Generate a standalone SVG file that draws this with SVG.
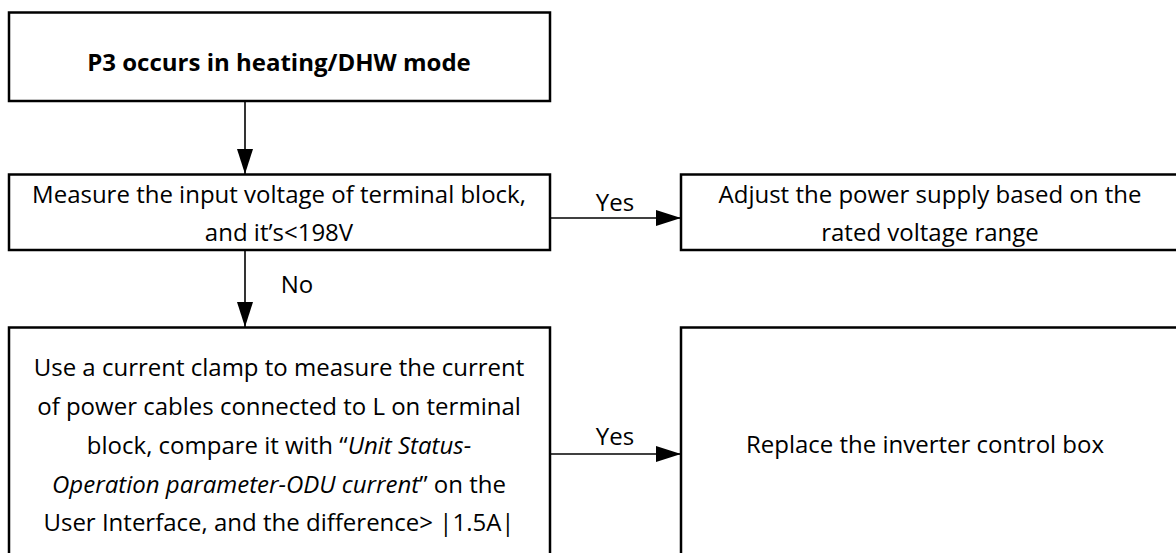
<svg xmlns="http://www.w3.org/2000/svg" width="1176" height="553" viewBox="0 0 1176 553">
<defs>
<style>
.box{fill:#fff;stroke:#000;stroke-width:2.5}
.t{font-family:"Open Sans","Liberation Sans",Arial,sans-serif;font-size:24px;fill:#000;text-anchor:middle}
.b{font-weight:bold}
.i{font-style:italic}
.c{stroke:#000;stroke-width:1.6;fill:none}
</style>
<marker id="ah" viewBox="0 0 25 16" refX="25" refY="8" markerWidth="25" markerHeight="16" markerUnits="userSpaceOnUse" orient="auto">
<path d="M0,0 L25,8 L0,16 Z" fill="#000"/>
</marker>
</defs>
<rect width="1176" height="553" fill="#fff"/>
<g id="n1">
<rect class="box" x="9" y="12.5" width="541" height="88.5"/>
<text class="t b" x="279" y="71">P3 occurs in heating/DHW mode</text>
</g>
<g id="n2">
<rect class="box" x="9" y="174.5" width="541" height="75.5"/>
<text class="t" x="279" y="203">Measure the input voltage of terminal block,</text>
<text class="t" x="279" y="241">and it’s&lt;198V</text>
</g>
<g id="n3">
<rect class="box" x="681" y="174.5" width="500" height="75.5"/>
<text class="t" x="930" y="203">Adjust the power supply based on the</text>
<text class="t" x="930" y="241">rated voltage range</text>
</g>
<g id="n4">
<rect class="box" x="9" y="327.5" width="541" height="230"/>
<text class="t" x="279" y="376">Use a current clamp to measure the current</text>
<text class="t" x="279" y="415">of power cables connected to L on terminal</text>
<text class="t" x="279" y="454">block, compare it with “<tspan class="i">Unit Status-</tspan></text>
<text class="t" x="279" y="493"><tspan class="i">Operation parameter-ODU current</tspan>” on the</text>
<text class="t" x="279" y="531">User Interface, and the difference&gt; |1.5A|</text>
</g>
<g id="n5">
<rect class="box" x="681" y="327.5" width="500" height="230"/>
<text class="t" x="925" y="453">Replace the inverter control box</text>
</g>
<g id="connectors">
<line class="c" x1="245" y1="101" x2="245" y2="174" marker-end="url(#ah)"/>
<line class="c" x1="550" y1="218" x2="681" y2="218" marker-end="url(#ah)"/>
<line class="c" x1="245" y1="250" x2="245" y2="327" marker-end="url(#ah)"/>
<line class="c" x1="550" y1="454" x2="681" y2="454" marker-end="url(#ah)"/>
<text class="t" x="615" y="211">Yes</text>
<text class="t" x="297" y="293">No</text>
<text class="t" x="615" y="445">Yes</text>
</g>
</svg>
